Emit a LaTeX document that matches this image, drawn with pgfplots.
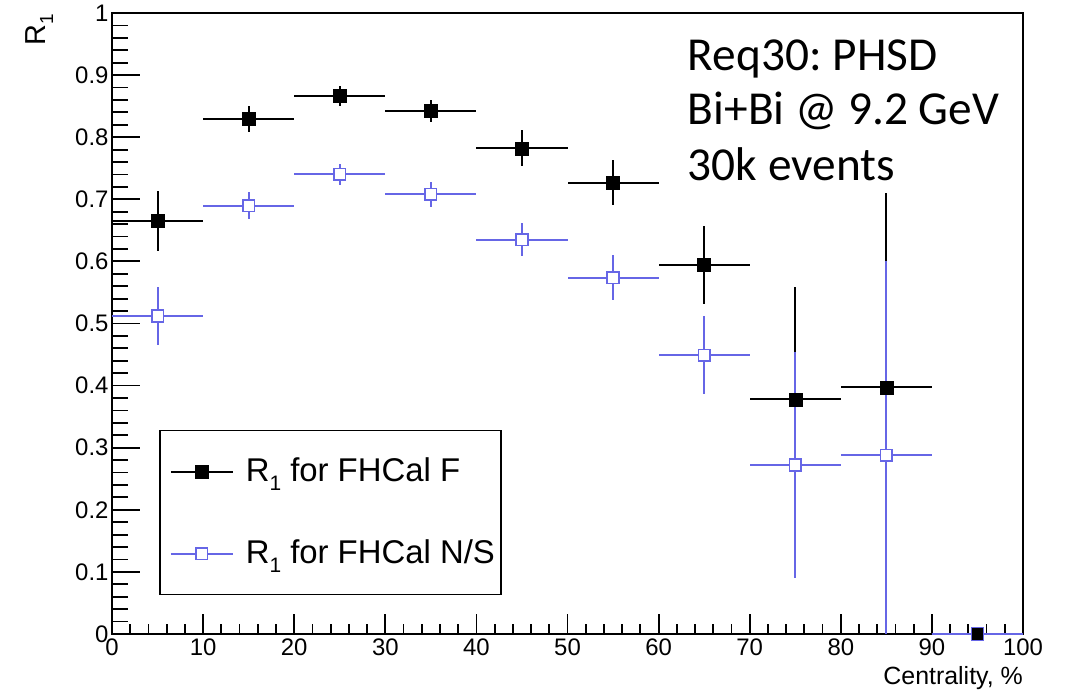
\documentclass[border=0pt]{standalone}
\usepackage{fontspec}
\setmainfont{Liberation Sans}
\newfontfamily\calibri{Carlito}
\usepackage{pgfplots}
\usepackage{pgfplotstable}
\pgfplotsset{compat=1.18}
\definecolor{nsblue}{RGB}{102,102,230}

\pgfplotstableread{
x  y     ex ey
5  0.665 5  0.048
15 0.830 5  0.021
25 0.866 5  0.016
35 0.842 5  0.018
45 0.782 5  0.029
55 0.727 5  0.036
65 0.594 5  0.063
75 0.378 5  0.181
85 0.397 5  0.313
}\dataF

\pgfplotstableread{
x  y     ex ey
95 0.000 5  0.000
}\dataFlast

\pgfplotstableread{
x  y     ex eyp   eym
5  0.512 5  0.047 0.046
15 0.690 5  0.022 0.022
25 0.740 5  0.017 0.017
35 0.708 5  0.020 0.020
45 0.635 5  0.027 0.027
55 0.574 5  0.036 0.036
65 0.449 5  0.063 0.063
75 0.272 5  0.182 0.182
85 0.288 5  0.312 0.288
95 0.000 5  0.000 0.000
}\dataNS

\newcommand{\legtext}[1]{\makebox[255bp][l]{\fontsize{33}{33}\selectfont R\raisebox{-9bp}{\fontsize{21}{21}\selectfont 1} for FHCal #1}}

\begin{document}
\frenchspacing
\begin{tikzpicture}
\useasboundingbox (-112bp,-56bp) rectangle (959bp,634bp);
% x axis ticks, labels
\begin{axis}[
  at={(0,0)}, anchor=south west,
  scale only axis, width=911bp, height=621bp,
  xmin=0, xmax=100, ymin=0, ymax=1,
  axis x line*=bottom, axis y line=none,
  axis line style={line width=1.8bp},
  every tick/.style={line width=1.8bp, black},
  xtick={0,10,20,30,40,50,60,70,80,90,100},
  minor x tick num=4,
  xtick align=inside,
  major tick length=20bp, minor tick length=10bp,
  /pgf/number format/assume math mode=true,
  xticklabel style={font=\fontsize{24}{24}\selectfont, yshift=-1.5bp},
  xlabel={Centrality, \%},
  xlabel style={at={(rel axis cs:1,0)}, anchor=base east, yshift=-50bp, inner sep=0pt, font=\fontsize{25}{25}\selectfont},
]
\end{axis}
\begin{axis}[
  at={(0,0)}, anchor=south west,
  scale only axis, width=911bp, height=621bp,
  xmin=0, xmax=100, ymin=0, ymax=1,
  clip=false,
  axis line style={line width=1.8bp},
  every tick/.style={line width=1.8bp, black},
  tick align=inside,
  xtick=\empty,
  ytick={0,0.1,0.2,0.3,0.4,0.5,0.6,0.7,0.8,0.9,1},
  minor y tick num=4,
  ytick pos=left,
  major tick length=28bp, minor tick length=16bp,
  /pgf/number format/assume math mode=true,
  /pgf/number format/fixed,
  yticklabel style={font=\fontsize{24}{24}\selectfont},
  legend style={at={(0.0516,0.3285)}, anchor=north west, draw=black, line width=1.5bp, fill=white,
    inner sep=0pt, row sep=0pt, column sep=0pt,
    nodes={inner sep=0pt, text depth=4.8bp}},
  legend cell align=left,
]
\addplot[only marks, mark=square*, mark size=6.5bp, black, mark options={fill=black, line width=0.5bp},
  legend image code/.code={
    \path[draw=none, fill=none] (0bp,-41bp) rectangle (86bp,41bp);
    \draw[black, line width=2bp] (11bp,0bp) -- (73bp,0bp);
    \draw[black, mark=square*, mark size=6.5bp, mark options={fill=black, line width=0.5bp}] plot coordinates {(42bp,0bp)};},
  error bars/.cd, x dir=both, x explicit, y dir=both, y explicit,
  error bar style={line width=2bp, black}, error mark=none]
  table[x=x, y=y, x error=ex, y error=ey] {\dataF};
\addlegendentry{\legtext{F}}
\addplot[only marks, mark=square*, mark size=5.8bp, nsblue, mark options={fill=white, draw=nsblue, line width=1.6bp},
  legend image code/.code={
    \path[draw=none, fill=none] (0bp,-41bp) rectangle (86bp,41bp);
    \draw[nsblue, line width=2bp] (11bp,0bp) -- (73bp,0bp);
    \draw[nsblue, mark=square*, mark size=5.8bp, mark options={fill=white, draw=nsblue, line width=1.6bp}] plot coordinates {(42bp,0bp)};},
  error bars/.cd, x dir=both, x explicit, y dir=both, y explicit,
  error bar style={line width=2bp, nsblue}, error mark=none]
  table[x=x, y=y, x error=ex, y error plus=eyp, y error minus=eym] {\dataNS};
\addlegendentry{\legtext{N/S}}
\addplot[forget plot, only marks, mark=square*, mark size=6.3bp, black, mark options={fill=black, draw=nsblue, line width=1bp},
  error bars/.cd, x dir=both, x explicit, y dir=both, y explicit,
  error bar style={line width=2bp, nsblue}, error mark=none]
  table[x=x, y=y, x error=ex, y error=ey] {\dataFlast};
\node[anchor=base west, font=\calibri\fontsize{47.5}{47.5}\selectfont, inner sep=0pt] at (axis cs:63.2,0.907) {Req30: PHSD};
\node[anchor=base west, font=\calibri\fontsize{47.5}{47.5}\selectfont, inner sep=0pt] at (axis cs:63.2,0.820) {Bi+Bi @ 9.2 GeV};
\node[anchor=base west, font=\calibri\fontsize{47.5}{47.5}\selectfont, inner sep=0pt] at (axis cs:63.2,0.731) {30k events};
\node[rotate=90, anchor=base east, font=\fontsize{29}{29}\selectfont, inner sep=0pt] at (axis cs:-7.35,0.998) {R\raisebox{-8bp}{\fontsize{19}{19}\selectfont 1}};
\end{axis}
\end{tikzpicture}
\end{document}
